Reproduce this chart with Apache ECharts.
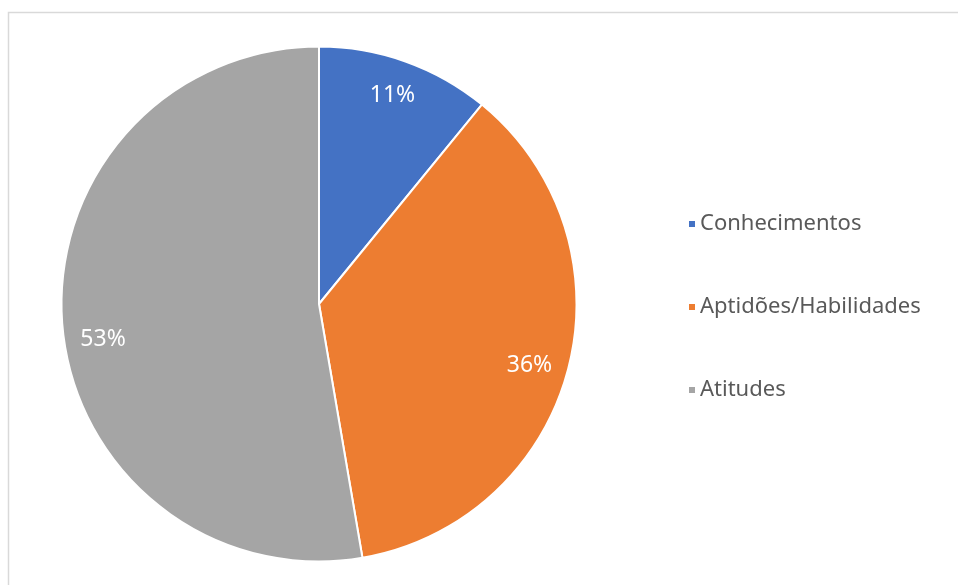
<!DOCTYPE html>
<html><head><meta charset="utf-8">
<script src="https://cdn.jsdelivr.net/npm/echarts@6/dist/echarts.min.js"></script>
<style>html,body{margin:0;padding:0;background:#fff}#c{width:958px;height:585px}</style>
</head><body><div id="c"></div>
<script>
const categories = ['Conhecimentos', 'Aptidões/Habilidades', 'Atitudes'];
const values = [10.9, 36.4, 52.7];
const colors = ['#4472C4', '#ED7D31', '#A5A5A5'];

// style only: small nudges of the in-slice labels
const labelNudge = [[-1, 0], [-4, 5], [5, 17]];

const chart = echarts.init(document.getElementById('c'));
const dataMain = categories.map((n, i) => ({ name: n, value: values[i], itemStyle: { color: colors[i] } }));
const dataLabel = categories.map((n, i) => ({ name: n, value: values[i], label: { offset: labelNudge[i] } }));
chart.setOption({
  animation: false,
  graphic: [{ type: 'rect', shape: { x: 8.5, y: 12.5, width: 1200, height: 1200 }, style: { fill: 'none', stroke: '#d9d9d9', lineWidth: 1.5 }, z: -1 }],
  legend: {
    orient: 'vertical', left: 682, top: 206,
    itemWidth: 8, itemHeight: 8, itemGap: 57, itemStyle: {}, icon: 'rect',
    textStyle: { fontFamily: 'Noto Sans', fontSize: 22, color: '#595959', lineHeight: 26, padding: [0, 0, 0, -1] },
    data: categories
  },
  series: [{
    type: 'pie', center: [319, 304], radius: [0, 257.5], startAngle: 90, clockwise: true,
    data: dataMain, label: { show: false }, labelLine: { show: false },
    itemStyle: { borderColor: '#fff', borderWidth: 2 }, emphasis: { disabled: true }
  }, {
    type: 'pie', center: [319, 304], radius: [180, 257.5], startAngle: 90, clockwise: true, silent: true,
    data: dataLabel, itemStyle: { color: 'rgba(0,0,0,0)' },
    label: { show: true, position: 'inside', color: '#fff', fontFamily: 'Noto Sans', fontSize: 23,
      formatter: p => Math.round(p.value) + '%' },
    labelLine: { show: false }, emphasis: { disabled: true }
  }]
});
</script></body></html>
